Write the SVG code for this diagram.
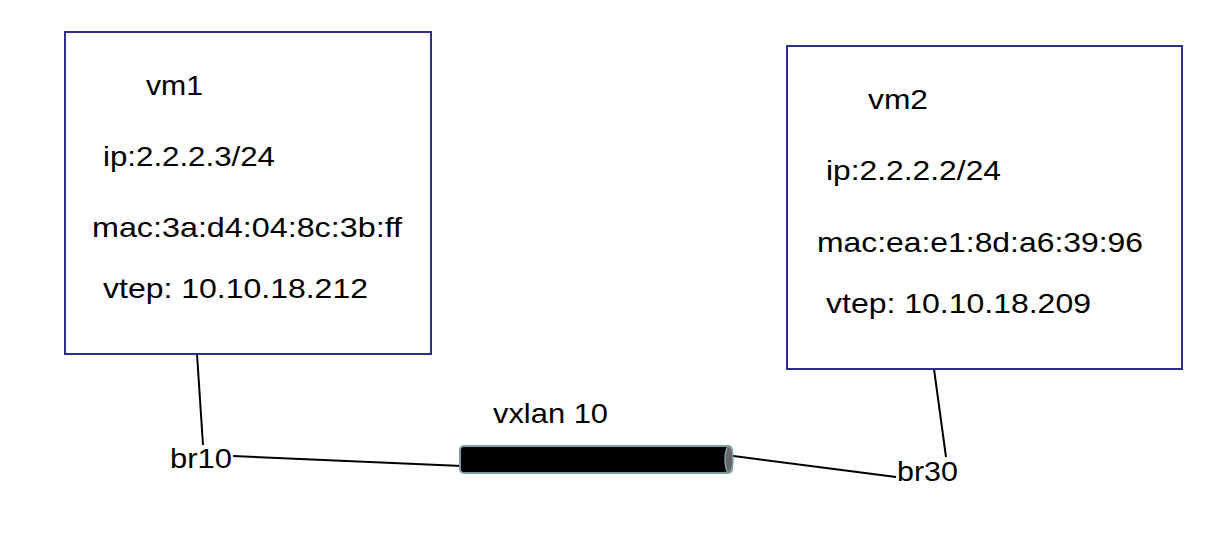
<svg xmlns="http://www.w3.org/2000/svg" width="1222" height="556" viewBox="0 0 1222 556">
<style>
.box{fill:#fff;stroke:#2e2e86;stroke-width:2}
.t{font-family:"Liberation Sans",Arial,sans-serif;font-size:28px;fill:#000}
.ln{stroke:#000;stroke-width:2;fill:none}
</style>
<rect width="1222" height="556" fill="#fff"/>
<g id="connectors">
<line class="ln" x1="197" y1="354" x2="203" y2="445"/>
<line class="ln" x1="233" y1="456" x2="462" y2="466"/>
<line class="ln" x1="726" y1="455" x2="896" y2="477"/>
<line class="ln" x1="934" y1="369" x2="946" y2="457"/>
</g>
<g id="vm1">
<rect class="box" x="65" y="32" width="366" height="322"/>
<text class="t" x="146" y="95" textLength="57" lengthAdjust="spacingAndGlyphs">vm1</text>
<text class="t" x="103" y="166" textLength="172" lengthAdjust="spacingAndGlyphs">ip:2.2.2.3/24</text>
<text class="t" x="92" y="237" textLength="310" lengthAdjust="spacingAndGlyphs">mac:3a:d4:04:8c:3b:ff</text>
<text class="t" x="103" y="298" textLength="265" lengthAdjust="spacingAndGlyphs">vtep: 10.10.18.212</text>
</g>
<g id="vm2">
<rect class="box" x="787" y="46" width="395" height="323"/>
<text class="t" x="868" y="109" textLength="60" lengthAdjust="spacingAndGlyphs">vm2</text>
<text class="t" x="826" y="180" textLength="175" lengthAdjust="spacingAndGlyphs">ip:2.2.2.2/24</text>
<text class="t" x="817" y="252" textLength="326" lengthAdjust="spacingAndGlyphs">mac:ea:e1:8d:a6:39:96</text>
<text class="t" x="826" y="313" textLength="265" lengthAdjust="spacingAndGlyphs">vtep: 10.10.18.209</text>
</g>
<g id="vxlan">
<rect x="460" y="446" width="272" height="27" rx="4" fill="#000" stroke="#7f9ea2" stroke-width="2"/>
<ellipse cx="729" cy="459.5" rx="4" ry="13" fill="#666" stroke="#7f9ea2" stroke-width="1.5"/>
<text class="t" x="493" y="423" textLength="115" lengthAdjust="spacingAndGlyphs">vxlan 10</text>
</g>
<g id="br10">
<text class="t" x="170" y="468" textLength="62" lengthAdjust="spacingAndGlyphs">br10</text>
</g>
<g id="br30">
<text class="t" x="897" y="481" textLength="61" lengthAdjust="spacingAndGlyphs">br30</text>
</g>
</svg>
